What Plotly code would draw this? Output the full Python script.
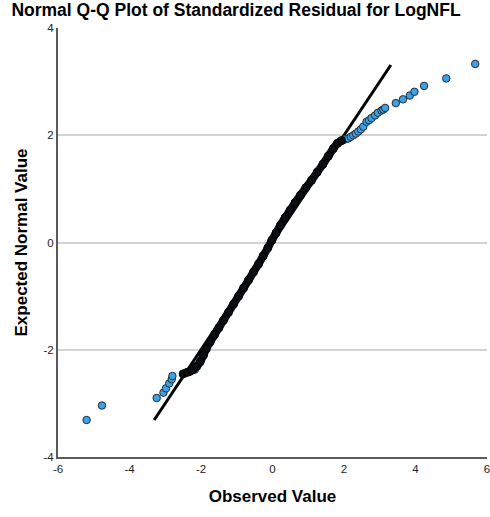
import plotly.graph_objects as go

# Dense central part of the Q-Q plot (points overlap into a solid dark band)
band_obs = [-2.50, -2.38, -2.25, -2.12, -2.02, -1.93, -1.85, -1.74, -1.62, -1.50,
            -1.37, -1.23, -1.09, -0.95, -0.81, -0.67, -0.53, -0.39, -0.26, -0.13,
            -0.02, 0.10, 0.22, 0.35, 0.49, 0.63, 0.78, 0.93, 1.09, 1.25, 1.41,
            1.56, 1.70, 1.82, 1.93]
band_exp = [-2.45, -2.42, -2.38, -2.31, -2.22, -2.10, -1.98, -1.85, -1.72, -1.59,
            -1.45, -1.30, -1.15, -1.00, -0.85, -0.70, -0.55, -0.40, -0.25, -0.10,
            0.04, 0.18, 0.32, 0.46, 0.60, 0.74, 0.88, 1.02, 1.16, 1.31, 1.46,
            1.61, 1.75, 1.85, 1.90]

# Tail points (visible as separate markers)
tail_obs = [-5.20, -4.77, -3.24, -3.05, -2.98, -2.89, -2.82, -2.80, -2.31, -2.17,
            1.98, 2.05, 2.12, 2.19, 2.26, 2.33, 2.40, 2.47, 2.54, 2.63, 2.70, 2.77,
            2.87, 2.95, 3.05, 3.10, 3.15, 3.45, 3.65, 3.84, 3.97, 4.24, 4.86, 5.67]
tail_exp = [-3.31, -3.04, -2.90, -2.80, -2.72, -2.63, -2.55, -2.49, -2.41, -2.37,
            1.91, 1.93, 1.94, 1.97, 2.00, 2.03, 2.07, 2.11, 2.16, 2.25, 2.28, 2.32,
            2.37, 2.42, 2.46, 2.48, 2.51, 2.60, 2.67, 2.74, 2.81, 2.92, 3.06, 3.33]

# Reference line y = x
ref_line = [-3.31, 3.31]

x_ticks = [-6, -4, -2, 0, 2, 4, 6]
y_ticks = [-4, -2, 0, 2, 4]

fig = go.Figure()

fig.add_trace(go.Scatter(
    x=ref_line, y=ref_line, mode="lines",
    line=dict(color="#000000", width=3), showlegend=False))

fig.add_trace(go.Scatter(
    x=tail_obs, y=tail_exp, mode="markers",
    marker=dict(size=7.5, color="#38a2ec", line=dict(color="#2b2b2b", width=1)),
    showlegend=False, cliponaxis=False))

fig.add_trace(go.Scatter(
    x=band_obs, y=band_exp, mode="lines+markers",
    line=dict(color="#0b0e12", width=8, shape="spline", smoothing=0.6),
    marker=dict(size=8, color="#0b0e12", line=dict(color="#000000", width=1)),
    showlegend=False, cliponaxis=False))

fig.update_layout(
    width=490, height=517,
    margin=dict(l=58, r=3, t=28, b=60, autoexpand=False),
    paper_bgcolor="white", plot_bgcolor="white",
    font=dict(family="Arial, Liberation Sans, sans-serif", color="#000000"),
    title=dict(text="Normal Q-Q Plot of Standardized Residual for LogNFL",
               x=236 / 490, xanchor="center", xref="container",
               y=1 - 4 / 517, yanchor="top", yref="container",
               automargin=False, pad=dict(t=0, b=0, l=0, r=0),
               font=dict(size=17.5, weight="bold", color="#000000")),
    xaxis=dict(range=[-6, 6], tickvals=x_ticks, ticktext=[str(v) for v in x_ticks],
               showgrid=False, zeroline=False, showline=True, automargin=False,
               linecolor="#5a5a5a", linewidth=2, ticks="",
               ticklabeloverflow="allow",
               tickfont=dict(size=11.5, color="#222222"),
               title=dict(text="Observed Value", standoff=16,
                          font=dict(size=17, weight="bold"))),
    yaxis=dict(range=[-4, 4], tickvals=y_ticks, ticktext=[str(v) for v in y_ticks],
               showgrid=True, gridcolor="#d3d3d3", gridwidth=1.5,
               zeroline=False, showline=True, automargin=False,
               linecolor="#5a5a5a", linewidth=2, ticks="",
               tickfont=dict(size=11.5, color="#222222"),
               title=dict(text="Expected Normal Value", standoff=12,
                          font=dict(size=17, weight="bold"))),
)

fig.write_html("out.html", config={"displayModeBar": False},
               post_script="document.body.style.margin='0';")
